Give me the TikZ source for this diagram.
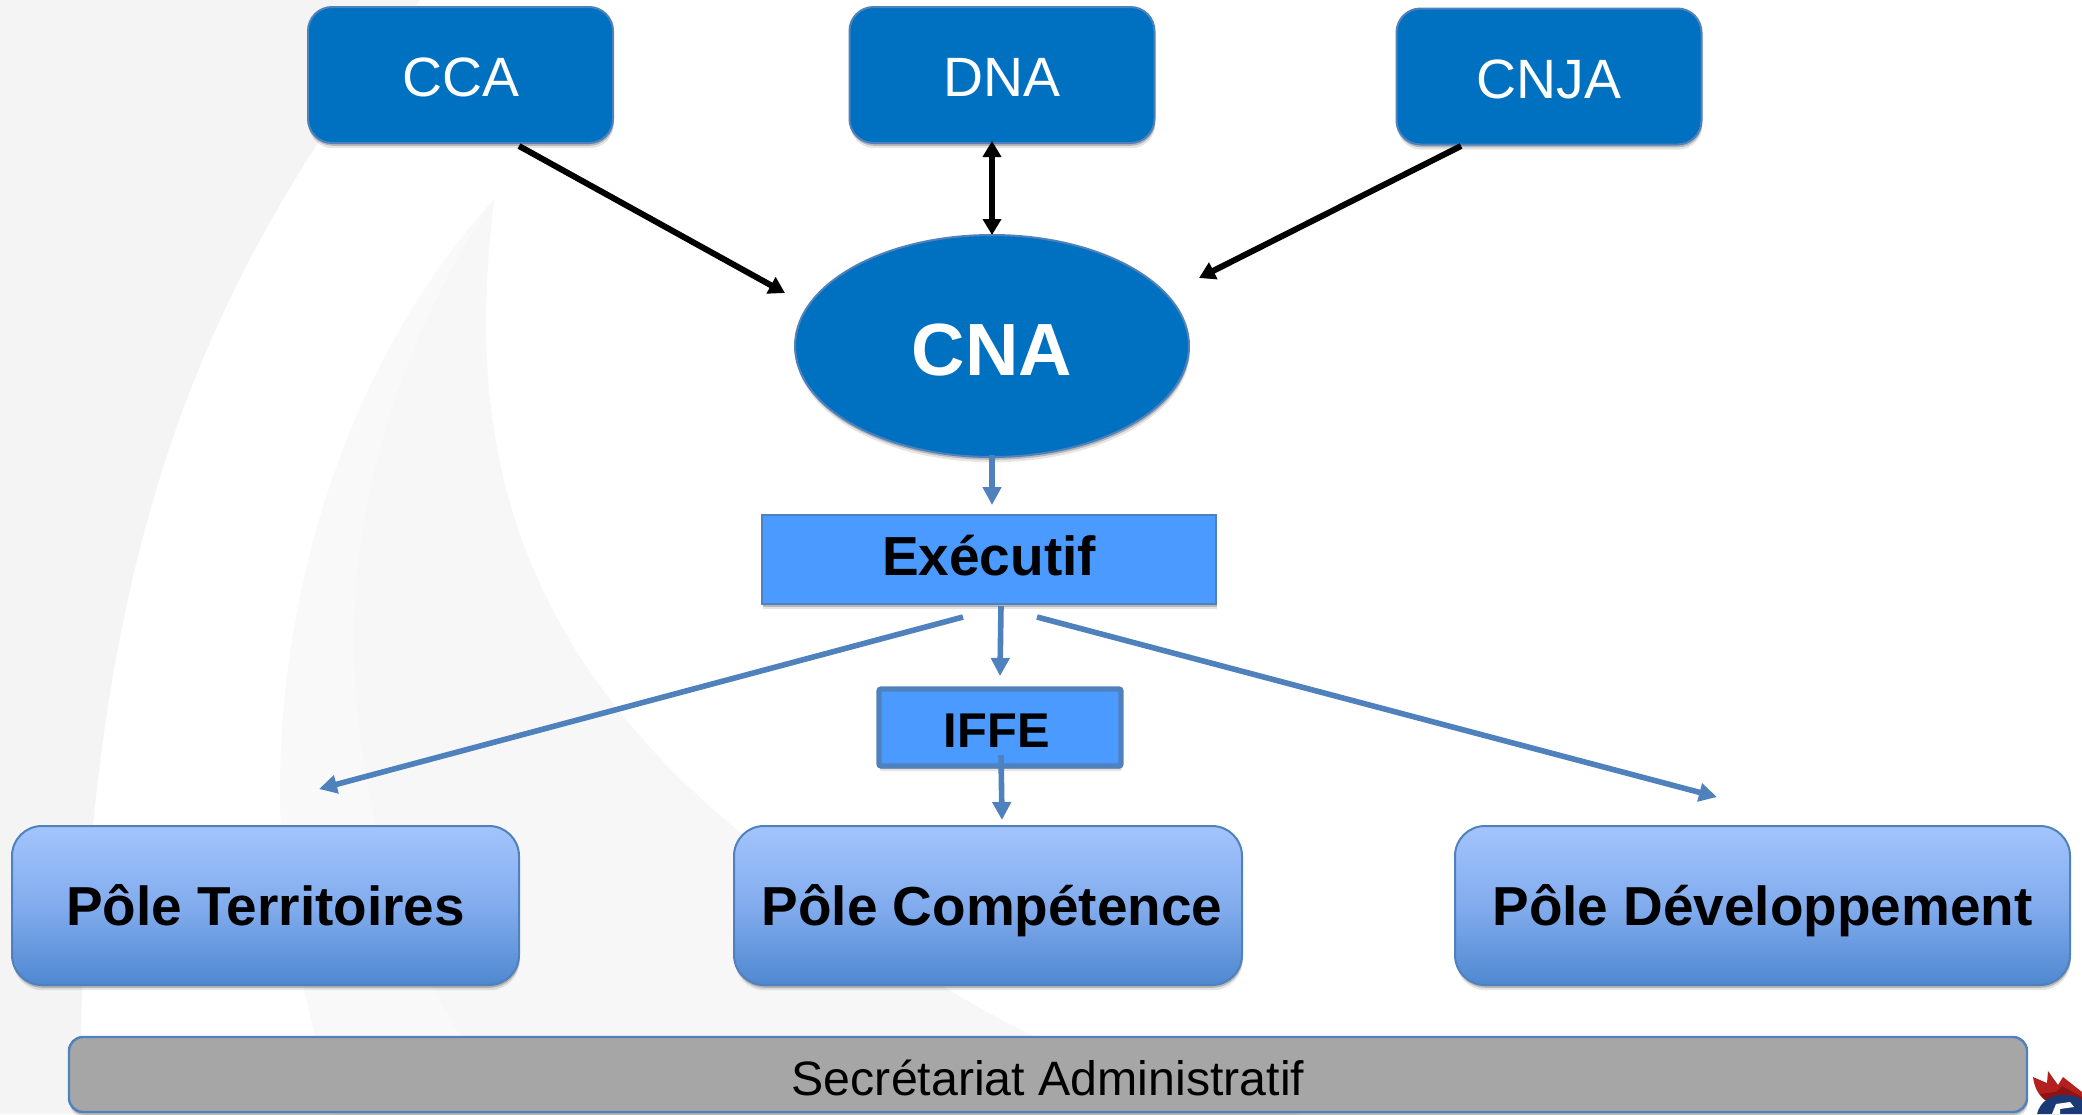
\documentclass[tikz,border=0pt]{standalone}
\usepackage{fontspec}
\setmainfont{Liberation Sans}
\usetikzlibrary{shapes.geometric,arrows.meta,shadows}
\definecolor{deepblue}{HTML}{0070C0}
\definecolor{edgeblue}{HTML}{4F81BD}
\definecolor{midblue}{HTML}{4A9AFF}
\definecolor{pgtop}{HTML}{A3C4FC}
\definecolor{pgmid}{HTML}{82ACEE}
\definecolor{pgbot}{HTML}{4F88D0}
\definecolor{bargrey}{HTML}{A6A6A6}
\definecolor{logored}{HTML}{B3201F}
\definecolor{logodark}{HTML}{8E1414}
\definecolor{logonavy}{HTML}{1B3A75}
\definecolor{sailleft}{HTML}{F4F4F4}
\definecolor{sailouter}{HTML}{F9F9F9}
\definecolor{sailinner}{HTML}{F7F7F7}
\tikzset{
  softshadow/.style={
    general shadow={shadow xshift=0.4pt,shadow yshift=-2.6pt,fill=black,opacity=.10},
    general shadow={shadow xshift=0.3pt,shadow yshift=-1.4pt,fill=black,opacity=.20}},
  topbox/.style={draw=edgeblue,line width=1pt,fill=deepblue,rounded corners=12pt,text=white,inner sep=0pt,
    minimum width=152.5pt,minimum height=68pt,font=\fontsize{27.7pt}{30pt}\selectfont,
    text height=21.9pt,text depth=0pt,softshadow},
  oval/.style={ellipse,draw=edgeblue,line width=1pt,fill=deepblue,text=white,inner sep=0pt,
    minimum width=197pt,minimum height=111pt,font=\fontsize{37pt}{40pt}\selectfont\bfseries,
    text height=29.9pt,text depth=0pt,softshadow},
  flatbox/.style={draw=edgeblue,fill=midblue,text=black,inner sep=0pt,softshadow},
  pole/.style={draw=edgeblue,line width=1pt,rounded corners=15pt,top color=pgtop,bottom color=pgbot,middle color=pgmid,
    text=black,inner sep=0pt,minimum height=79.5pt,font=\fontsize{27.45pt}{30pt}\selectfont\bfseries,
    text height=19.8pt,text depth=0pt,softshadow},
  bar/.style={draw=edgeblue,line width=1.2pt,fill=bargrey,rounded corners=7pt,text=black,inner sep=0pt,
    minimum width=979pt,minimum height=37.5pt,font=\fontsize{24.14pt}{28pt}\selectfont,
    text height=21.4pt,text depth=0pt,softshadow},
  blackarrow/.style={draw=black,line width=3pt,-{Triangle[length=8pt,width=9pt]}},
  blackboth/.style={draw=black,line width=3pt,{Triangle[length=8pt,width=9pt]}-{Triangle[length=8pt,width=9pt]}},
  bluearrow/.style={draw=edgeblue,line width=2.8pt,-{Triangle[length=9pt,width=9pt]}},
}
\begin{document}
\begin{tikzpicture}[x=0.5pt,y=-0.5pt]
\useasboundingbox (0,0) rectangle (2082,1114);
\clip (0,0) rectangle (2082,1114);
\fill[white] (0,0) rectangle (2082,1114);
% background sails
\fill[sailleft] (0,0) -- (420,0) .. controls (220,260) and (80,520) .. (80,1114) -- (0,1114) -- cycle;
\fill[sailouter] (494,199) .. controls (340,370) and (280,600) .. (280,790) .. controls (280,900) and (300,980) .. (335,1114)
  -- (1300,1114) -- (1062,1049) .. controls (950,1000) and (870,940) .. (797,876) .. controls (480,650) and (470,400) .. (494,199) -- cycle;
\fill[sailinner] (494,199) .. controls (400,340) and (354,500) .. (354,640) .. controls (354,800) and (410,1000) .. (520,1114)
  -- (1300,1114) -- (1062,1049) .. controls (950,1000) and (870,940) .. (797,876) .. controls (480,650) and (470,400) .. (494,199) -- cycle;
% logo
\fill[logored] (2033,1077) -- (2047,1083) -- (2048,1071) -- (2058,1085) -- (2063,1077) -- (2082,1092) -- (2082,1100) -- (2045,1100) .. controls (2038,1095) and (2034,1086) .. (2033,1077) -- cycle;
\fill[logodark] (2040,1094) -- (2056,1092) -- (2062,1086) -- (2082,1097) -- (2082,1100) -- (2045,1100) -- cycle;
\fill[logonavy] (2037,1114) .. controls (2040,1102) and (2050,1095) .. (2062,1095) .. controls (2070,1095) and (2078,1096) .. (2082,1100) -- (2082,1114) -- cycle;
\fill[white] (2052,1114) -- (2056,1104) -- (2070,1102) -- (2074,1107) -- (2060,1109) -- (2060,1114) -- cycle;
% nodes
\node[topbox] (cca) at (460.5,75) {CCA};
\node[topbox] (dna) at (1002,75) {DNA};
\node[topbox] (cnja) at (1549,76.5) {CNJA};
\node[oval] (cna) at (992,346) {CNA};
\node[flatbox,line width=1.2pt,minimum width=227pt,minimum height=44.5pt,font=\fontsize{27.5pt}{30pt}\selectfont\bfseries,text height=19.8pt,text depth=3.5pt] (exec) at (989,559.5) {Exécutif};
\node[flatbox,line width=2.6pt,rounded corners=1pt,minimum width=121pt,minimum height=38.5pt,font=\fontsize{24.4pt}{26pt}\selectfont\bfseries,text height=20.4pt,text depth=0pt] (iffe) at (1000,727.5) {IFFE\hspace*{3.3pt}};
\node[pole,minimum width=253.5pt] (terr) at (265.5,905.5) {Pôle Territoires};
\node[pole,minimum width=254pt] (comp) at (988,905.5) {\hspace*{4pt}Pôle Compétence};
\node[pole,minimum width=307.5pt] (dev) at (1762.5,905.5) {Pôle Développement};
\node[bar] (sec) at (1048,1074.5) {Secrétariat Administratif};
% free ends
\coordinate (ccaend) at (785,293);
\coordinate (ccastart) at (519,146);
\coordinate (cnjastart) at (1461,146);
\coordinate (cnjaend) at (1199,278);
\coordinate (dnabot) at (992,141);
\coordinate (cnatop) at (992,235);
\coordinate (cnabot) at (992,455);
\coordinate (execin) at (992,505);
\coordinate (ls) at (963,617);
\coordinate (le) at (319,789);
\coordinate (ms) at (1001,606);
\coordinate (me) at (1000,676);
\coordinate (rs) at (1037,617);
\coordinate (re) at (1717,797);
\coordinate (is) at (1001,755);
\coordinate (ie) at (1002,820);
% connectors
\draw[blackarrow] (ccastart) -- (ccaend);
\draw[blackboth] (dnabot) -- (cnatop);
\draw[blackarrow] (cnjastart) -- (cnjaend);
\draw[bluearrow] (cnabot) -- (execin);
\draw[bluearrow] (ls) -- (le);
\draw[bluearrow] (ms) -- (me);
\draw[bluearrow] (rs) -- (re);
\draw[bluearrow] (is) -- (ie);
\end{tikzpicture}
\end{document}
